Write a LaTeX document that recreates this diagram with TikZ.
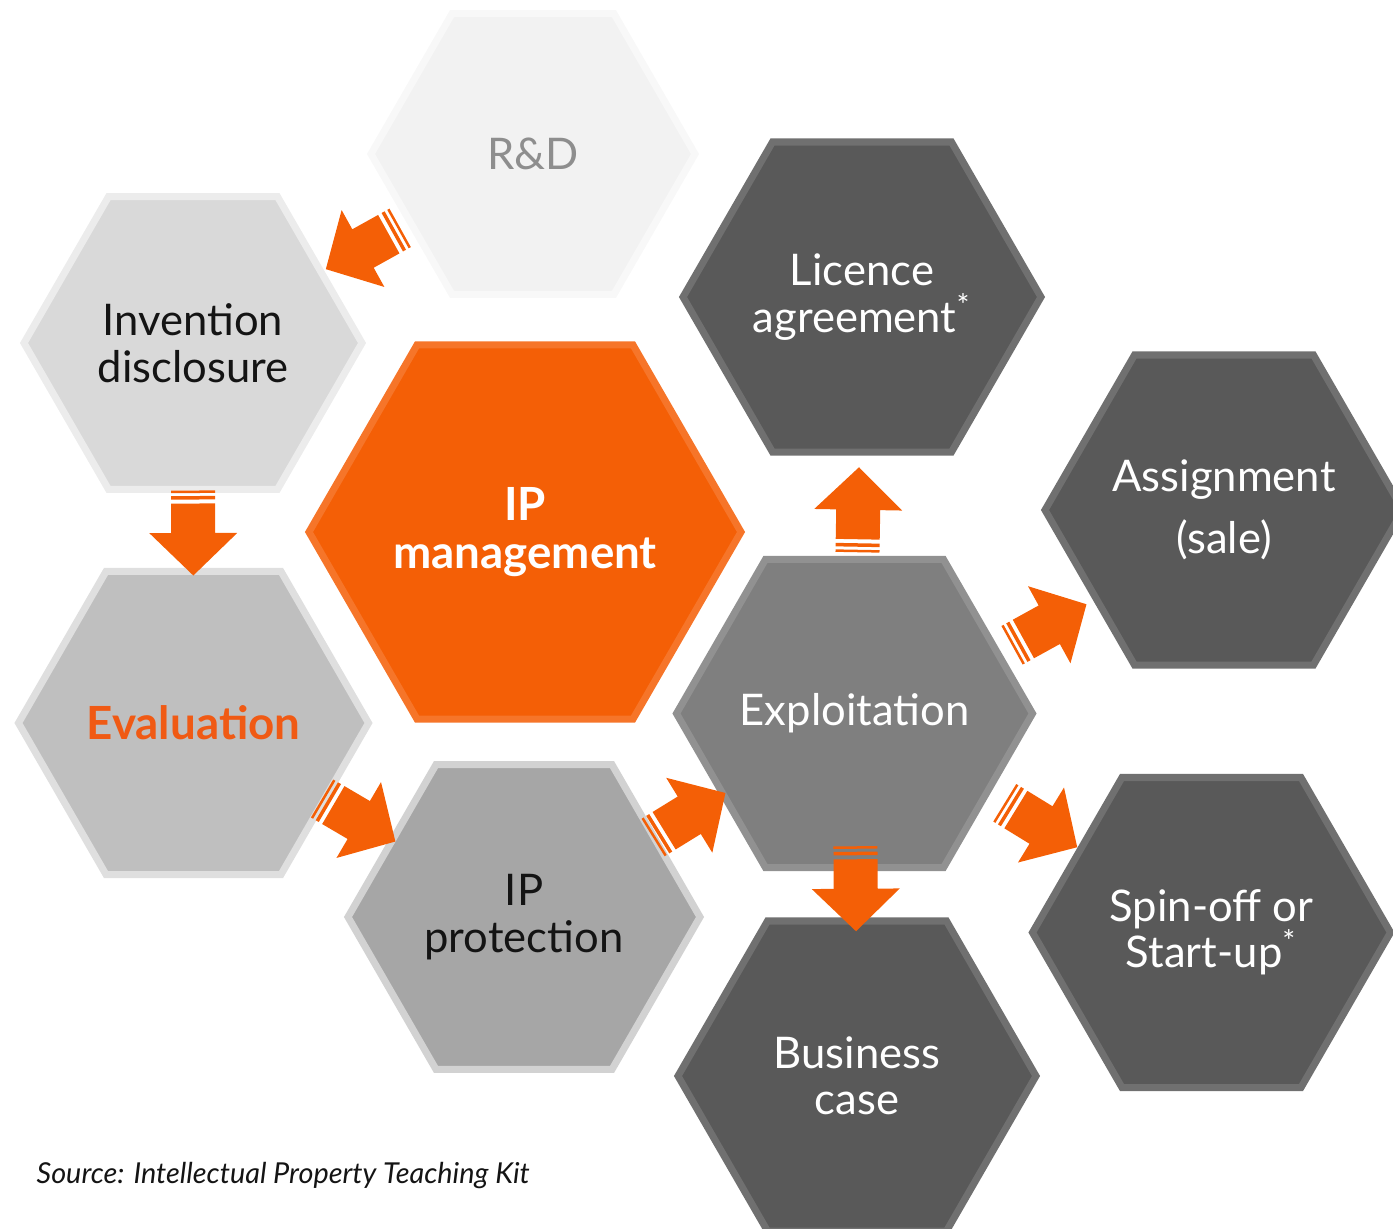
\documentclass[tikz,border=0pt]{standalone}
\usepackage{fontspec}
\setmainfont{Lato}
\usepackage{tikz}
\usetikzlibrary{shapes.geometric,calc}

\definecolor{ipOrange}{HTML}{F45F06}
\definecolor{evalText}{HTML}{F05A14}
\definecolor{rdFill}{HTML}{F2F2F2}
\definecolor{rdText}{HTML}{8E8E8E}
\definecolor{invFill}{HTML}{D9D9D9}
\definecolor{evalFill}{HTML}{BFBFBF}
\definecolor{ippFill}{HTML}{A6A6A6}
\definecolor{explFill}{HTML}{7F7F7F}
\definecolor{hexDark}{HTML}{595959}
\definecolor{inkText}{HTML}{141414}

% block arrow with two stripes at its tail, pointing along +x
\tikzset{
    pics/blockarrow/.style={code={
        \fill[ipOrange] (-0.295,-0.22) -- (0,-0.22) -- (0,-0.44) -- (0.425,0)
            -- (0,0.44) -- (0,0.22) -- (-0.295,0.22) -- cycle;
        \fill[ipOrange] (-0.37,-0.22) rectangle (-0.335,0.22);
        \fill[ipOrange] (-0.425,-0.22) rectangle (-0.40,0.22);
    }}
}
% arrow half way between two cells (optional shift)
\newcommand\flowarrow[3][0,0]{%
    \path let \p1=($(#3)-(#2)$), \n1={atan2(\y1,\x1)} in
        ($(#2)!0.5!(#3)$) ++(#1) pic[rotate=\n1] {blockarrow};}

\begin{document}
\begin{tikzpicture}[
        font=\fontsize{12.4}{13.2}\selectfont,
        % Hexagon styles
        hexcell/.style={
            regular polygon,
            regular polygon sides=6,
            inner sep=-0.3cm,
            align=center,
            line width=2pt,
            fill=#1,
            draw=#1!86!white
        },
        softcell/.style={
            hexcell=#1,
            draw=#1!50!white,
            text=inkText
        },
        darkcell/.style={
            hexcell=hexDark,
            minimum size=3.58cm,
            text=white
        },
        boldtext/.style={font=\fontsize{13}{13.6}\selectfont\bfseries},
        source/.style={font=\fontsize{8.2}{9.8}\selectfont\itshape, text=inkText, inner sep=0pt}
    ]
    \useasboundingbox (0,0) rectangle (13.93,-12.29);

    % Left column
    \node[softcell=rdFill, minimum size=3.24cm, text=rdText] (rd) at (5.33,-1.54) {R\&D};
    \node[softcell=invFill, minimum size=3.38cm] (inv) at (1.93,-3.43) {Invention\\disclosure};
    \node[softcell=evalFill, minimum size=3.50cm, text=evalText, boldtext] (eval) at (1.935,-7.23) {Evaluation};
    \node[softcell=ippFill, minimum size=3.52cm] (ipp) at (5.24,-9.17) {IP\\protection};

    % Centre
    \node[hexcell=ipOrange, minimum size=4.32cm, text=white, boldtext] (ipm) at (5.25,-5.32) {IP\\management};

    % Exploitation and its routes
    \node[hexcell=explFill, minimum size=3.56cm, text=white] (expl) at (8.545,-7.135) {Exploitation};
    \node[darkcell] (lic) at (8.62,-2.97) {Licence\\agreement\textsuperscript{*}};
    \node[darkcell] (asg) at (12.24,-5.10) {Assignment\\[4.4pt](sale)};
    \node[darkcell] (spin) at (12.115,-9.325) {Spin-off or\\Start-up\textsuperscript{*}};
    \node[darkcell] (bus) at (8.57,-10.76) {Business\\case};

    % Source
    \node[source, anchor=base west] (src) at (0.36,-11.83) {Source: Intellectual Property Teaching Kit};

    % Connections
    \flowarrow{rd}{inv}
    \flowarrow{inv}{eval}
    \flowarrow{eval}{ipp}
    \flowarrow{ipp}{expl}
    \flowarrow[0,-0.045]{expl}{lic}
    \flowarrow[0.1,-0.13]{expl}{asg}
    \flowarrow[0.08,-0.02]{expl}{spin}
    \flowarrow[0,0.06]{expl}{bus}
\end{tikzpicture}
\end{document}
